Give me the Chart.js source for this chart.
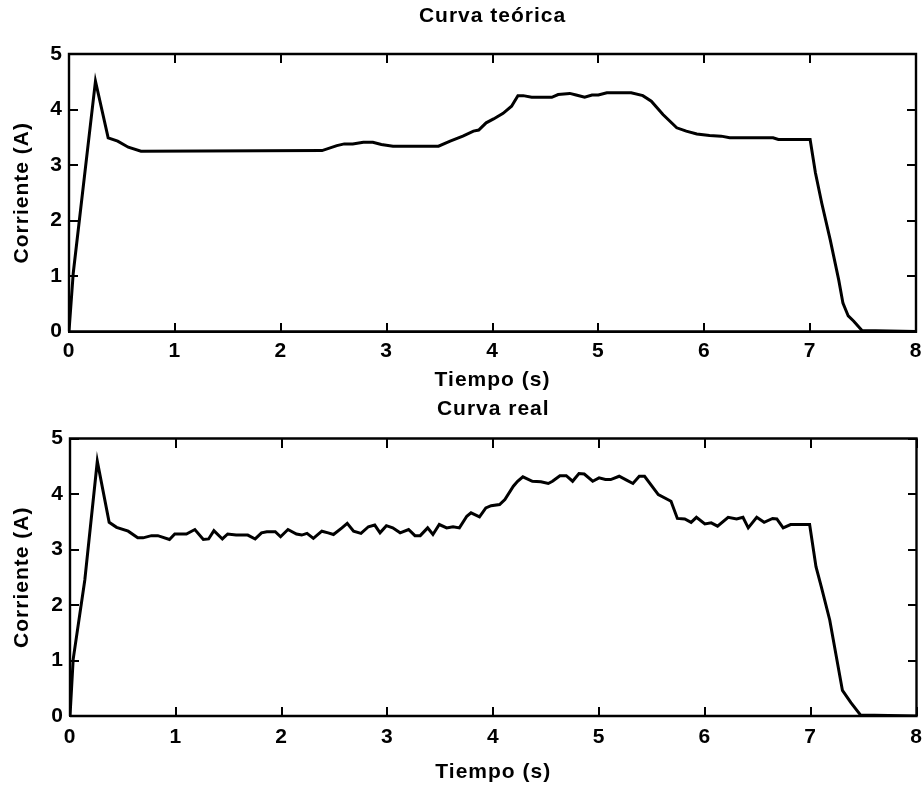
<!DOCTYPE html>
<html><head><meta charset="utf-8">
<script src="https://cdn.jsdelivr.net/npm/chart.js@4"></script>
<style>
html,body{margin:0;padding:0;background:#fff;}
#wrap{position:relative;width:922px;height:788px;background:#fff;}
canvas{position:absolute;left:0;}
</style></head><body>
<div id="wrap">
<canvas id="c1" width="922" height="394" style="top:0"></canvas>
<canvas id="c2" width="922" height="394" style="top:394px"></canvas>
</div>
<script>
// ---- values ----
const tTeorica = [0, 0.04, 0.25, 0.37, 0.46, 0.56, 0.68, 2.39, 2.53, 2.60, 2.68, 2.78, 2.87, 2.95, 3.06, 3.49, 3.60, 3.72, 3.82, 3.87, 3.94, 4.01, 4.10, 4.18, 4.24, 4.29, 4.37, 4.56, 4.62, 4.73, 4.79, 4.87, 4.94, 5.00, 5.08, 5.31, 5.42, 5.50, 5.61, 5.74, 5.83, 5.93, 6.05, 6.16, 6.24, 6.65, 6.70, 7.00, 7.05, 7.11, 7.19, 7.27, 7.31, 7.36, 7.41, 7.49, 8.00];
const iTeorica = [0, 1.05, 4.51, 3.49, 3.43, 3.32, 3.25, 3.26, 3.35, 3.38, 3.38, 3.41, 3.41, 3.37, 3.34, 3.34, 3.43, 3.52, 3.61, 3.63, 3.76, 3.83, 3.93, 4.06, 4.25, 4.25, 4.22, 4.22, 4.27, 4.29, 4.26, 4.22, 4.26, 4.26, 4.30, 4.30, 4.25, 4.15, 3.91, 3.67, 3.61, 3.56, 3.53, 3.52, 3.49, 3.49, 3.46, 3.46, 2.86, 2.31, 1.65, 0.93, 0.51, 0.28, 0.19, 0.02, 0];
const tReal = [0, 0.03, 0.14, 0.258, 0.37, 0.44, 0.55, 0.64, 0.69, 0.77, 0.83, 0.94, 0.99, 1.10, 1.18, 1.26, 1.31, 1.36, 1.44, 1.49, 1.57, 1.68, 1.75, 1.81, 1.86, 1.94, 1.99, 2.06, 2.14, 2.19, 2.24, 2.30, 2.38, 2.44, 2.49, 2.57, 2.62, 2.68, 2.75, 2.82, 2.88, 2.93, 2.99, 3.05, 3.12, 3.20, 3.26, 3.31, 3.38, 3.43, 3.49, 3.56, 3.62, 3.68, 3.75, 3.79, 3.87, 3.93, 3.98, 4.06, 4.11, 4.19, 4.23, 4.28, 4.37, 4.45, 4.52, 4.56, 4.63, 4.69, 4.75, 4.81, 4.86, 4.94, 5.00, 5.06, 5.11, 5.19, 5.26, 5.32, 5.38, 5.43, 5.56, 5.68, 5.74, 5.81, 5.87, 5.92, 6.00, 6.06, 6.12, 6.22, 6.30, 6.36, 6.41, 6.49, 6.56, 6.64, 6.68, 6.74, 6.81, 6.99, 7.05, 7.10, 7.18, 7.30, 7.38, 7.47, 8.00];
const iReal = [0, 1.02, 2.45, 4.59, 3.49, 3.40, 3.33, 3.21, 3.21, 3.25, 3.25, 3.18, 3.28, 3.28, 3.36, 3.18, 3.19, 3.34, 3.19, 3.28, 3.26, 3.26, 3.19, 3.30, 3.32, 3.32, 3.23, 3.36, 3.28, 3.26, 3.29, 3.20, 3.33, 3.30, 3.27, 3.39, 3.47, 3.33, 3.29, 3.41, 3.44, 3.30, 3.43, 3.39, 3.30, 3.36, 3.25, 3.25, 3.39, 3.27, 3.45, 3.39, 3.41, 3.39, 3.60, 3.66, 3.59, 3.75, 3.79, 3.81, 3.90, 4.14, 4.23, 4.31, 4.23, 4.22, 4.19, 4.23, 4.33, 4.33, 4.23, 4.37, 4.36, 4.23, 4.29, 4.26, 4.26, 4.32, 4.25, 4.19, 4.32, 4.32, 3.99, 3.87, 3.56, 3.55, 3.49, 3.58, 3.46, 3.48, 3.42, 3.58, 3.55, 3.58, 3.39, 3.58, 3.49, 3.56, 3.55, 3.39, 3.45, 3.45, 2.69, 2.33, 1.73, 0.46, 0.24, 0.02, 0];

const xTicks = [0, 1, 2, 3, 4, 5, 6, 7, 8];
const yTicks = [0, 1, 2, 3, 4, 5];
const titles = ['Curva teórica', 'Curva real'];
const xLabel = 'Tiempo (s)';
const yLabel = 'Corriente (A)';

// ---- chart construction ----
const FONT = 'Liberation Sans, Arial, Helvetica, sans-serif';
const LH = 21 * 1.2;
const TL = 9;   // inward tick length (px)
const TW = 2;   // tick width (px)
const xMin = xTicks[0], xMax = xTicks[xTicks.length - 1];
const yMin = yTicks[0], yMax = yTicks[yTicks.length - 1];

// small marker images: half of each is black so the tick points into the box
function tickImg(w, h, fx, fy, fw, fh) {
  const c = document.createElement('canvas');
  c.width = w; c.height = h;
  const k = c.getContext('2d');
  k.fillStyle = '#000';
  k.fillRect(fx, fy, fw, fh);
  return c;
}
const tickBottom = tickImg(TW, 2 * TL, 0, 0, TW, TL);
const tickTop = tickImg(TW, 2 * TL, 0, TL, TW, TL);
const tickLeft = tickImg(2 * TL, TW, TL, 0, TL, TW);
const tickRight = tickImg(2 * TL, TW, 0, 0, TL, TW);

const spacing = {
  id: 'spacing',
  beforeDraw(chart) { chart.ctx.letterSpacing = '1px'; }
};

const font = () => ({ family: FONT, size: 21, weight: 'bold' });

function tickSet(points, img) {
  return { data: points, showLine: false, pointStyle: img, pointRadius: 5, pointHoverRadius: 5, clip: false, borderWidth: 0 };
}

function makeChart(id, title, t, v, g) {
  const curve = t.map((tv, k) => ({x: tv, y: v[k]}));
  const box = [{x: xMin, y: yMin}, {x: xMax, y: yMin}, {x: xMax, y: yMax}, {x: xMin, y: yMax}, {x: xMin, y: yMin}];
  return new Chart(document.getElementById(id), {
    type: 'line',
    data: { datasets: [
      { data: curve, borderColor: '#000', borderWidth: 3, pointRadius: 0, tension: 0, fill: false },
      { data: box, borderColor: '#000', borderWidth: 2.4, pointRadius: 0, tension: 0, fill: false, clip: false, borderJoinStyle: 'miter' },
      tickSet(xTicks.map(val => ({x: val, y: yMin})), tickBottom),
      tickSet(xTicks.map(val => ({x: val, y: yMax})), tickTop),
      tickSet(yTicks.map(val => ({x: xMin, y: val})), tickLeft),
      tickSet(yTicks.map(val => ({x: xMax, y: val})), tickRight)
    ] },
    options: {
      responsive: false,
      devicePixelRatio: 1,
      animation: false,
      events: [],
      layout: { padding: 0 },
      plugins: {
        legend: { display: false },
        tooltip: { enabled: false },
        title: {
          display: true, text: title, fullSize: false, color: '#000', font: font(),
          padding: { top: g.titleC - LH / 2, bottom: g.top - (g.titleC + LH / 2) }
        }
      },
      scales: {
        x: {
          type: 'linear', position: 'bottom', min: xMin, max: xMax,
          afterBuildTicks: s => { s.ticks = xTicks.map(val => ({value: val})); },
          afterFit: s => { s.height = 394 - g.bottom; s.paddingRight = 922 - g.right; s.paddingLeft = 0; },
          grid: { display: false, drawTicks: false },
          border: { display: true, width: 2, color: '#000' },
          ticks: { color: '#000', padding: g.tickC - LH / 2, maxRotation: 0, font: font() },
          title: { display: true, text: xLabel, color: '#000', font: font(), padding: { top: 0, bottom: g.xTitleB - LH / 2 } }
        },
        y: {
          type: 'linear', position: 'left', min: yMin, max: yMax,
          afterBuildTicks: s => { s.ticks = yTicks.map(val => ({value: val})); },
          afterFit: s => { s.width = g.left; },
          grid: { display: false, drawTicks: false },
          border: { display: true, width: 2, color: '#000' },
          ticks: { color: '#000', padding: 6, font: font() },
          title: { display: true, text: yLabel, color: '#000', font: font(), padding: { top: 22.5 - LH / 2, bottom: 0 } }
        }
      }
    },
    plugins: [spacing]
  });
}

makeChart('c1', titles[0], tTeorica, iTeorica, { left: 69, right: 916, top: 54, bottom: 331.5, titleC: 16, tickC: 19.5, xTitleB: 14 });
makeChart('c2', titles[1], tReal, iReal, { left: 70, right: 916.5, top: 44.5, bottom: 322, titleC: 15, tickC: 21, xTitleB: 16 });
</script>
</body></html>
